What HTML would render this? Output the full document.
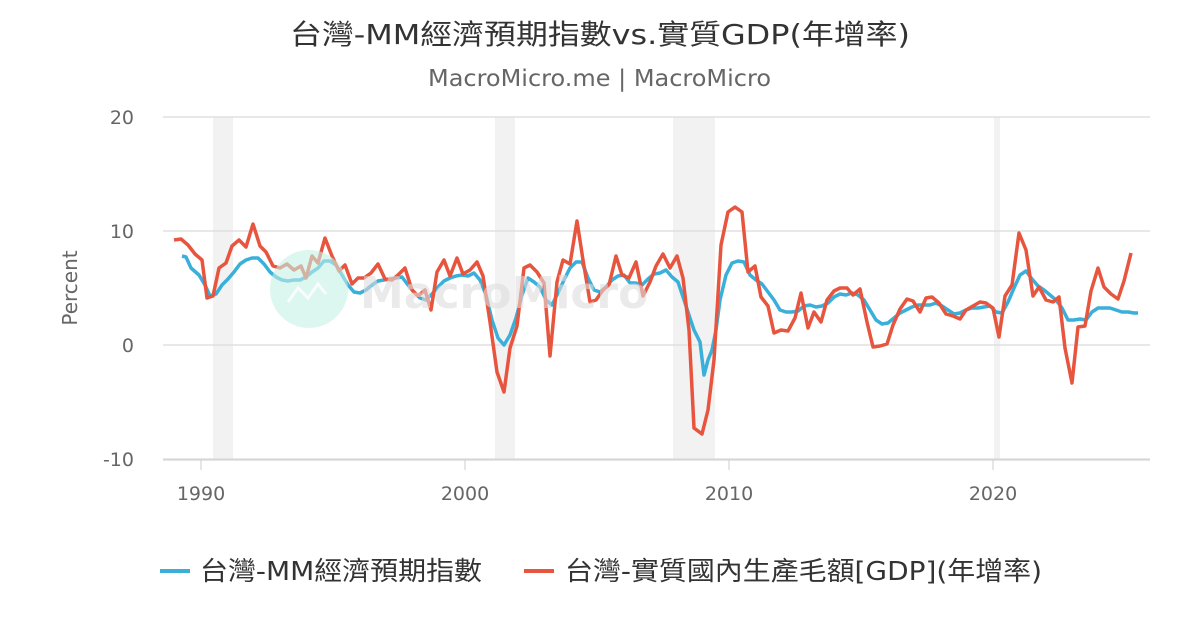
<!DOCTYPE html>
<html><head><meta charset="utf-8"><style>
html,body{margin:0;padding:0;background:#fff;}
svg{display:block;font-family:"DejaVu Sans","Noto Sans CJK TC",sans-serif;}
</style></head><body>
<svg width="1200" height="630" viewBox="0 0 1200 630" xmlns="http://www.w3.org/2000/svg">
<rect width="1200" height="630" fill="#fff"/>
<text x="290" y="44" font-size="28" fill="#333" textLength="620" lengthAdjust="spacingAndGlyphs">台灣-MM經濟預期指數vs.實質GDP(年增率)</text>
<text x="428" y="86" font-size="23" fill="#666" textLength="343" lengthAdjust="spacingAndGlyphs">MacroMicro.me | MacroMicro</text>
<g fill="#f2f2f2">
<rect x="213" y="117" width="20" height="343"/>
<rect x="495" y="117" width="20" height="343"/>
<rect x="673" y="117" width="42" height="343"/>
<rect x="994" y="117" width="6" height="343"/>
</g>
<g stroke="#e0e0e0" stroke-width="1.5">
<line x1="163" y1="117" x2="1150" y2="117"/>
<line x1="163" y1="231" x2="1150" y2="231"/>
<line x1="163" y1="345" x2="1150" y2="345"/>
<line x1="163" y1="459" x2="1150" y2="459"/>
</g>
<line x1="163" y1="460" x2="1150" y2="460" stroke="#ccc" stroke-width="1"/>
<g stroke="#ccc"><line x1="201" y1="460" x2="201" y2="470"/><line x1="465" y1="460" x2="465" y2="470"/><line x1="729" y1="460" x2="729" y2="470"/><line x1="993" y1="460" x2="993" y2="470"/></g>
<g font-size="19" fill="#666" text-anchor="end">
<text x="134" y="124">20</text><text x="134" y="238">10</text><text x="134" y="352">0</text><text x="134" y="466">-10</text>
</g>
<g font-size="19" fill="#666" text-anchor="middle">
<text x="201" y="500">1990</text><text x="465" y="500">2000</text><text x="729" y="500">2010</text><text x="993" y="500">2020</text>
</g>
<text x="77" y="288" font-size="20" fill="#666" text-anchor="middle" transform="rotate(-90 77 288)">Percent</text>
<polyline fill="none" stroke="#3aafd9" stroke-width="3.5" stroke-linejoin="round" points="182,256 186,257 191,268 199,275 205,285 210,296 216,294 222,285 228,279 234,272 240,264 246,260 252,258 258,258 264,264 270,272 276,277 282,280 288,281 294,280 300,280 306,277 312,272 318,268 324,261 330,261 336,265 342,275 348,285 354,292 360,293 366,290 372,285 378,281 384,280 390,279 396,278 402,277 408,285 414,292 420,298 426,300 432,294 438,287 444,281 450,278 456,276 462,275 468,276 474,273 480,280 486,295 492,320 498,338 504,345 510,335 516,318 522,295 528,278 534,282 540,287 546,300 552,305 558,293 564,280 570,268 576,262 582,262 588,278 594,290 600,292 606,287 612,280 618,276 624,275 630,283 636,283 642,285 648,279 654,274 660,273 666,270 672,277 678,282 684,300 690,318 694,330 700,342 704,375 708,360 712,350 716,330 720,300 726,275 732,263 738,261 744,262 750,275 756,280 762,284 768,292 774,300 780,310 786,312 792,312 798,311 804,306 810,305 816,307 822,306 828,303 834,297 840,294 846,295 852,293 858,295 864,300 870,310 876,320 882,324 888,323 894,318 900,313 906,310 912,307 918,305 924,305 930,305 936,303 942,306 948,310 954,314 960,313 966,310 972,308 978,308 984,307 990,306 996,312 1002,313 1008,302 1014,288 1020,275 1026,271 1032,279 1038,286 1044,290 1050,295 1056,300 1062,308 1068,320 1074,320 1080,319 1086,320 1092,312 1098,308 1104,308 1110,308 1116,310 1122,312 1128,312 1134,313 1138,313"/>
<polyline fill="none" stroke="#e8553e" stroke-width="3.5" stroke-linejoin="round" points="174,240 181,239 188,245 195,254 202,260 207,298 213,296 219,268 226,263 232,246 239,240 246,247 253,224 260,246 266,252 273,266 280,268 287,264 294,270 301,266 306,278 312,256 318,263 325,238 332,256 339,271 345,265 352,284 358,278 364,278 371,273 378,264 385,279 392,280 398,275 405,268 412,290 418,296 425,290 431,310 437,272 444,260 450,276 457,258 463,274 470,270 477,262 483,276 490,322 497,372 504,392 510,348 517,326 524,268 530,265 537,272 544,283 550,356 557,282 563,260 570,264 577,221 583,260 590,302 596,300 603,290 609,285 616,256 622,275 629,278 636,262 643,296 650,282 656,266 663,254 670,268 677,256 683,278 689,330 694,428 702,434 708,410 714,360 721,245 728,212 735,207 742,212 748,272 755,266 761,297 768,306 774,333 781,330 788,331 795,318 801,293 808,328 814,312 821,322 827,300 834,291 840,288 847,288 853,295 860,289 867,322 873,347 880,346 887,344 893,325 900,309 907,299 913,301 920,312 926,298 932,297 939,303 946,314 953,316 960,319 966,310 973,306 980,302 986,303 993,308 999,337 1005,296 1012,285 1019,233 1026,250 1033,296 1039,287 1046,300 1053,302 1059,297 1065,348 1072,383 1078,327 1085,326 1091,291 1098,268 1104,287 1111,294 1118,299 1124,281 1131,253"/>
<circle cx="309" cy="289" r="39" fill="#c4f0e6" opacity="0.6"/>
<polyline points="288,302 298,288 308,298 318,284 326,294" fill="none" stroke="#fff" stroke-width="3" opacity="0.8"/>
<text x="360" y="308" font-size="44" font-weight="bold" fill="#ddd" opacity="0.6">MacroMicro</text>
<line x1="160" y1="571" x2="190" y2="571" stroke="#3aafd9" stroke-width="4"/>
<text x="200" y="580" font-size="26" fill="#333" textLength="282" lengthAdjust="spacingAndGlyphs">台灣-MM經濟預期指數</text>
<line x1="524" y1="571" x2="554" y2="571" stroke="#e8553e" stroke-width="4"/>
<text x="565" y="580" font-size="26" fill="#333" textLength="477" lengthAdjust="spacingAndGlyphs">台灣-實質國內生產毛額[GDP](年增率)</text>
</svg>
</body></html>
